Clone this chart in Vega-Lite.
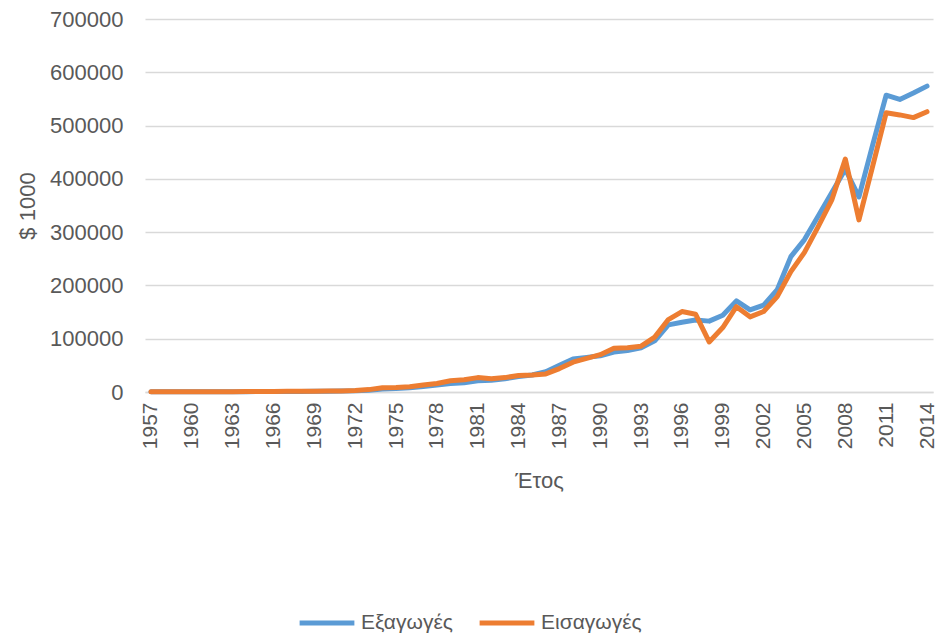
{
  "$schema": "https://vega.github.io/schema/vega-lite/v6.json",
  "width": 788,
  "height": 373,
  "autosize": {"type": "none"},
  "padding": {"left": 145, "top": 19, "right": 4, "bottom": 243},
  "background": "white",
  "config": {
    "view": {"stroke": null},
    "font": "Liberation Sans",
    "axis": {"labelColor": "#595959", "titleColor": "#595959", "labelFont": "Liberation Sans", "titleFont": "Liberation Sans"}
  },
  "data": {
    "values": [
      {"year": 1957, "Εξαγωγές": 300, "Εισαγωγές": 400},
      {"year": 1958, "Εξαγωγές": 350, "Εισαγωγές": 400},
      {"year": 1959, "Εξαγωγές": 400, "Εισαγωγές": 450},
      {"year": 1960, "Εξαγωγές": 450, "Εισαγωγές": 500},
      {"year": 1961, "Εξαγωγές": 500, "Εισαγωγές": 550},
      {"year": 1962, "Εξαγωγές": 550, "Εισαγωγές": 600},
      {"year": 1963, "Εξαγωγές": 600, "Εισαγωγές": 700},
      {"year": 1964, "Εξαγωγές": 700, "Εισαγωγές": 800},
      {"year": 1965, "Εξαγωγές": 800, "Εισαγωγές": 900},
      {"year": 1966, "Εξαγωγές": 900, "Εισαγωγές": 1100},
      {"year": 1967, "Εξαγωγές": 1000, "Εισαγωγές": 1200},
      {"year": 1968, "Εξαγωγές": 1100, "Εισαγωγές": 1300},
      {"year": 1969, "Εξαγωγές": 1300, "Εισαγωγές": 1500},
      {"year": 1970, "Εξαγωγές": 1600, "Εισαγωγές": 1800},
      {"year": 1971, "Εξαγωγές": 1800, "Εισαγωγές": 2100},
      {"year": 1972, "Εξαγωγές": 2200, "Εισαγωγές": 2600},
      {"year": 1973, "Εξαγωγές": 3500, "Εισαγωγές": 4500},
      {"year": 1974, "Εξαγωγές": 5500, "Εισαγωγές": 8000},
      {"year": 1975, "Εξαγωγές": 6500, "Εισαγωγές": 8500},
      {"year": 1976, "Εξαγωγές": 8000, "Εισαγωγές": 10000},
      {"year": 1977, "Εξαγωγές": 10500, "Εισαγωγές": 13000},
      {"year": 1978, "Εξαγωγές": 13000, "Εισαγωγές": 16000},
      {"year": 1979, "Εξαγωγές": 16000, "Εισαγωγές": 21000},
      {"year": 1980, "Εξαγωγές": 17500, "Εισαγωγές": 23000},
      {"year": 1981, "Εξαγωγές": 21000, "Εισαγωγές": 27000},
      {"year": 1982, "Εξαγωγές": 22000, "Εισαγωγές": 25000},
      {"year": 1983, "Εξαγωγές": 25000, "Εισαγωγές": 27000},
      {"year": 1984, "Εξαγωγές": 29000, "Εισαγωγές": 31000},
      {"year": 1985, "Εξαγωγές": 32000, "Εισαγωγές": 32000},
      {"year": 1986, "Εξαγωγές": 38000, "Εισαγωγές": 34000},
      {"year": 1987, "Εξαγωγές": 50000, "Εισαγωγές": 44000},
      {"year": 1988, "Εξαγωγές": 62000, "Εισαγωγές": 56000},
      {"year": 1989, "Εξαγωγές": 65000, "Εισαγωγές": 63000},
      {"year": 1990, "Εξαγωγές": 68000, "Εισαγωγές": 70000},
      {"year": 1991, "Εξαγωγές": 75000, "Εισαγωγές": 82000},
      {"year": 1992, "Εξαγωγές": 78000, "Εισαγωγές": 83000},
      {"year": 1993, "Εξαγωγές": 83000, "Εισαγωγές": 86000},
      {"year": 1994, "Εξαγωγές": 96000, "Εισαγωγές": 103000},
      {"year": 1995, "Εξαγωγές": 126000, "Εισαγωγές": 136000},
      {"year": 1996, "Εξαγωγές": 131000, "Εισαγωγές": 151000},
      {"year": 1997, "Εξαγωγές": 135000, "Εισαγωγές": 146000},
      {"year": 1998, "Εξαγωγές": 133000, "Εισαγωγές": 94000},
      {"year": 1999, "Εξαγωγές": 144000, "Εισαγωγές": 121000},
      {"year": 2000, "Εξαγωγές": 171000, "Εισαγωγές": 160000},
      {"year": 2001, "Εξαγωγές": 154000, "Εισαγωγές": 141000},
      {"year": 2002, "Εξαγωγές": 163000, "Εισαγωγές": 151000},
      {"year": 2003, "Εξαγωγές": 192000, "Εισαγωγές": 179000},
      {"year": 2004, "Εξαγωγές": 254000, "Εισαγωγές": 226000},
      {"year": 2005, "Εξαγωγές": 286000, "Εισαγωγές": 262000},
      {"year": 2006, "Εξαγωγές": 330000, "Εισαγωγές": 310000},
      {"year": 2007, "Εξαγωγές": 374000, "Εισαγωγές": 360000},
      {"year": 2008, "Εξαγωγές": 418000, "Εισαγωγές": 437000},
      {"year": 2009, "Εξαγωγές": 366000, "Εισαγωγές": 323000},
      {"year": 2010, "Εξαγωγές": 463000, "Εισαγωγές": 423000},
      {"year": 2011, "Εξαγωγές": 557000, "Εισαγωγές": 524000},
      {"year": 2012, "Εξαγωγές": 549000, "Εισαγωγές": 520000},
      {"year": 2013, "Εξαγωγές": 561000, "Εισαγωγές": 515000},
      {"year": 2014, "Εξαγωγές": 574000, "Εισαγωγές": 526000}
    ]
  },
  "transform": [
    {"fold": ["Εξαγωγές", "Εισαγωγές"], "as": ["series", "value"]}
  ],
  "mark": {"type": "line", "strokeWidth": 5, "strokeJoin": "round", "strokeCap": "round"},
  "encoding": {
    "x": {
      "field": "year",
      "type": "quantitative",
      "scale": {"domain": [1956.56, 2014.44], "nice": false, "zero": false},
      "axis": {
        "values": [1957, 1960, 1963, 1966, 1969, 1972, 1975, 1978, 1981, 1984, 1987, 1990, 1993, 1996, 1999, 2002, 2005, 2008, 2011, 2014],
        "format": "d",
        "labelAngle": -90,
        "labelAlign": "right",
        "labelBaseline": "middle",
        "labelFontSize": 21,
        "labelPadding": 10,
        "labelOverlap": false,
        "labelFlush": false,
        "ticks": false,
        "grid": false,
        "domain": true,
        "domainColor": "#d9d9d9",
        "domainWidth": 1.5,
        "title": "Έτος",
        "titleFontSize": 22,
        "titleFontWeight": "normal",
        "titlePadding": 22
      }
    },
    "y": {
      "field": "value",
      "type": "quantitative",
      "scale": {"domain": [0, 700000], "nice": false},
      "axis": {
        "values": [0, 100000, 200000, 300000, 400000, 500000, 600000, 700000],
        "format": "d",
        "labelFontSize": 22,
        "labelPadding": 22,
        "ticks": false,
        "domain": false,
        "grid": true,
        "gridColor": "#d9d9d9",
        "gridWidth": 1.5,
        "title": "$ 1000",
        "titleFontSize": 22,
        "titleFontWeight": "normal",
        "titlePadding": 10
      }
    },
    "color": {
      "field": "series",
      "type": "nominal",
      "sort": ["Εξαγωγές", "Εισαγωγές"],
      "scale": {"domain": ["Εξαγωγές", "Εισαγωγές"], "range": ["#5B9BD5", "#ED7D31"]},
      "legend": {
        "title": null,
        "orient": "none",
        "direction": "horizontal",
        "legendX": 152,
        "legendY": 574,
        "symbolType": "stroke",
        "symbolSize": 3000,
        "symbolStrokeWidth": 5,
        "labelFontSize": 21,
        "labelColor": "#595959",
        "labelFont": "Liberation Sans",
        "columnPadding": 16,
        "labelOffset": 4,
        "padding": 0
      }
    }
  }
}
